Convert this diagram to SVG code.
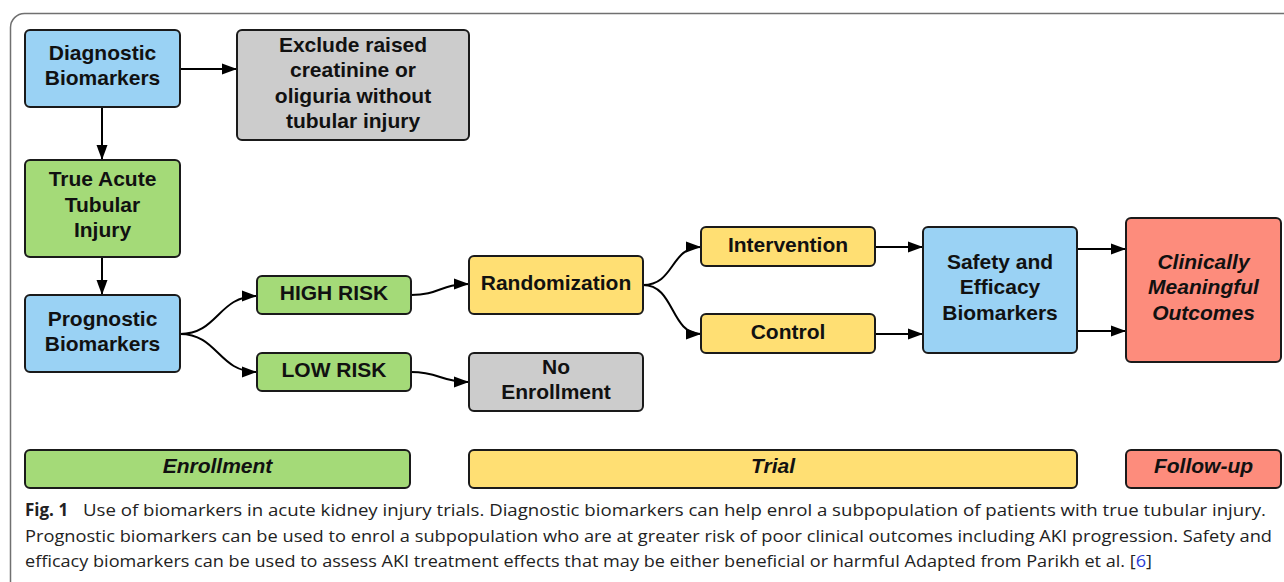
<svg xmlns="http://www.w3.org/2000/svg" width="1284" height="582" viewBox="0 0 1284 582">
<defs>
<marker id="ah" markerUnits="userSpaceOnUse" markerWidth="16" markerHeight="12" refX="15" refY="6" orient="auto">
<path d="M0,0.5 L15,6 L0,11.5 z" fill="#000"/>
</marker>
<style>
.n{stroke:#1a1a1a;stroke-width:2}
.blue{fill:#9ad2f4}.green{fill:#a4da78}.yellow{fill:#ffdf73}.grey{fill:#cccccc}.red{fill:#fd8c7c}
.t{font-family:"Liberation Sans",Arial,sans-serif;font-weight:bold;font-size:21px;fill:#111;text-anchor:middle}
.it{font-style:italic}
.c{fill:none;stroke:#000;stroke-width:2;marker-end:url(#ah)}
.cap{font-family:"Open Sans","Noto Sans",sans-serif;font-size:17px;fill:#222}
</style>
</defs>
<rect x="10.5" y="13.5" width="1320" height="620" rx="14" fill="none" stroke="#707070" stroke-width="1.5"/>

<g id="connectors">
<path class="c" d="M180,69 H237"/>
<path class="c" d="M102,107 V160"/>
<path class="c" d="M102,257 V295"/>
<path class="c" d="M180,334 C218,334 218,296 257,296"/>
<path class="c" d="M180,334 C218,334 218,372 257,372"/>
<path class="c" d="M411,295 C440,295 440,284 469,284"/>
<path class="c" d="M411,372 C440,372 440,382 469,382"/>
<path class="c" d="M643,285 C675,285 670,247 701,247"/>
<path class="c" d="M643,285 C675,285 670,334 701,334"/>
<path class="c" d="M875,247 H923"/>
<path class="c" d="M875,334 H923"/>
<path class="c" d="M1077,249 H1126"/>
<path class="c" d="M1077,331 H1126"/>
</g>

<g id="diagnostic">
<rect class="n blue" x="25" y="30" width="155" height="77" rx="5"/>
<text class="t" x="102.5" y="60">Diagnostic</text>
<text class="t" x="102.5" y="85">Biomarkers</text>
</g>
<g id="exclude">
<rect class="n grey" x="237" y="30" width="232" height="110" rx="5"/>
<text class="t" x="353" y="51.5">Exclude raised</text>
<text class="t" x="353" y="77">creatinine or</text>
<text class="t" x="353" y="102.5">oliguria without</text>
<text class="t" x="353" y="128">tubular injury</text>
</g>
<g id="true-injury">
<rect class="n green" x="25" y="160" width="155" height="97" rx="5"/>
<text class="t" x="102.5" y="186">True Acute</text>
<text class="t" x="102.5" y="211.5">Tubular</text>
<text class="t" x="102.5" y="237">Injury</text>
</g>
<g id="prognostic">
<rect class="n blue" x="25" y="295" width="155" height="77" rx="5"/>
<text class="t" x="102.5" y="325.5">Prognostic</text>
<text class="t" x="102.5" y="350.5">Biomarkers</text>
</g>
<g id="high-risk">
<rect class="n green" x="257" y="276" width="154" height="38" rx="5"/>
<text class="t" x="334" y="299.5">HIGH RISK</text>
</g>
<g id="low-risk">
<rect class="n green" x="257" y="353" width="154" height="38" rx="5"/>
<text class="t" x="334" y="376.5">LOW RISK</text>
</g>
<g id="randomization">
<rect class="n yellow" x="469" y="256" width="174" height="58" rx="5"/>
<text class="t" x="556" y="290">Randomization</text>
</g>
<g id="no-enrollment">
<rect class="n grey" x="469" y="353" width="174" height="58" rx="5"/>
<text class="t" x="556" y="373.5">No</text>
<text class="t" x="556" y="398.5">Enrollment</text>
</g>
<g id="intervention">
<rect class="n yellow" x="701" y="227" width="174" height="39" rx="5"/>
<text class="t" x="788" y="251.5">Intervention</text>
</g>
<g id="control">
<rect class="n yellow" x="701" y="314" width="174" height="39" rx="5"/>
<text class="t" x="788" y="338.5">Control</text>
</g>
<g id="safety">
<rect class="n blue" x="923" y="227" width="154" height="126" rx="5"/>
<text class="t" x="1000" y="268.5">Safety and</text>
<text class="t" x="1000" y="294">Efficacy</text>
<text class="t" x="1000" y="319.5">Biomarkers</text>
</g>
<g id="outcomes">
<rect class="n red" x="1126" y="218" width="155" height="144" rx="5"/>
<text class="t it" x="1203.5" y="268.5">Clinically</text>
<text class="t it" x="1203.5" y="294">Meaningful</text>
<text class="t it" x="1203.5" y="319.5">Outcomes</text>
</g>
<g id="phase-enrollment">
<rect class="n green" x="25" y="450" width="385" height="38" rx="5"/>
<text class="t it" x="217.5" y="473">Enrollment</text>
</g>
<g id="phase-trial">
<rect class="n yellow" x="469" y="450" width="608" height="38" rx="5"/>
<text class="t it" x="773" y="473">Trial</text>
</g>
<g id="phase-followup">
<rect class="n red" x="1126" y="450" width="155" height="38" rx="5"/>
<text class="t it" x="1203.5" y="473">Follow-up</text>
</g>

<g id="caption">
<text class="cap" x="25" y="516" font-weight="bold">Fig. 1</text>
<text class="cap" x="83" y="516" textLength="1183" lengthAdjust="spacingAndGlyphs">Use of biomarkers in acute kidney injury trials. Diagnostic biomarkers can help enrol a subpopulation of patients with true tubular injury.</text>
<text class="cap" x="25" y="542" textLength="1247" lengthAdjust="spacingAndGlyphs">Prognostic biomarkers can be used to enrol a subpopulation who are at greater risk of poor clinical outcomes including AKI progression. Safety and</text>
<text class="cap" x="25" y="567" textLength="1127" lengthAdjust="spacingAndGlyphs">efficacy biomarkers can be used to assess AKI treatment effects that may be either beneficial or harmful Adapted from Parikh et al. [<tspan fill="#2a3cd6">6</tspan>]</text>
</g>
</svg>
